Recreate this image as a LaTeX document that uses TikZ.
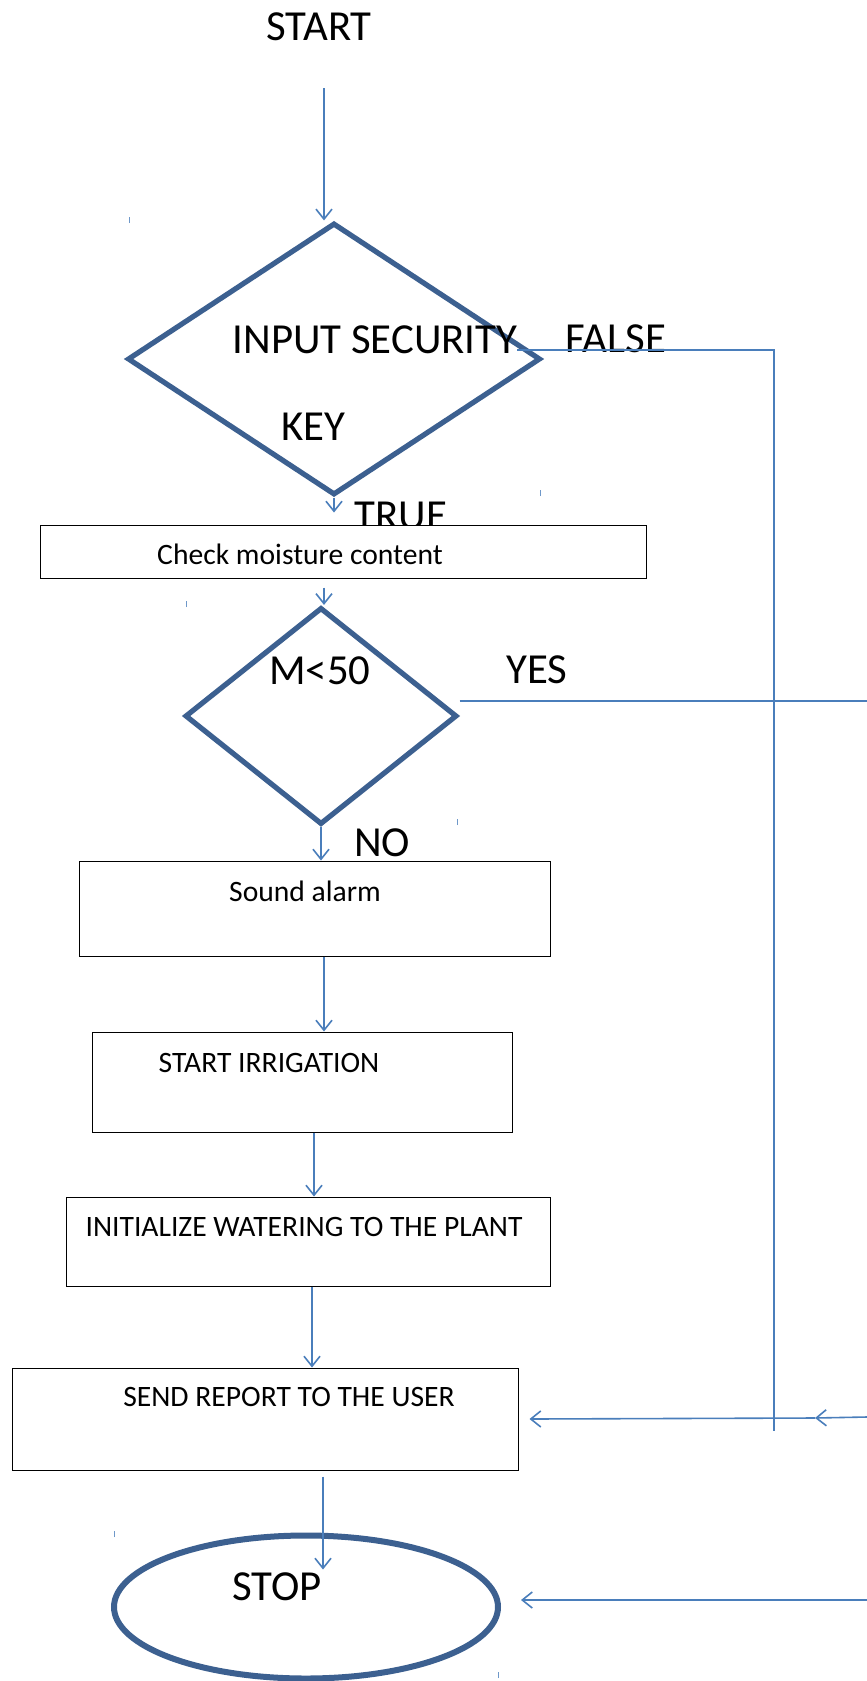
\documentclass[tikz,border=0pt]{standalone}
\usepackage{fontspec}
\setmainfont{Carlito}
\usetikzlibrary{shapes.geometric,arrows.meta}
\definecolor{flowblue}{HTML}{4A7EBB}
\definecolor{shapeblue}{HTML}{3C6090}

\tikzset{
  flow/.style={draw=flowblue, line width=0.8pt, -{Straight Barb[length=5pt,width=8pt]}},
  link/.style={draw=flowblue, line width=0.8pt},
  decision/.style={diamond, draw=shapeblue, line width=2.6pt, inner sep=0pt},
  procbox/.style={rectangle, draw=black, fill=white, line width=0.5pt, inner sep=0pt},
  bigtxt/.style={font=\fontsize{21.4}{25}\selectfont},
  boxtxt/.style={font=\fontsize{14.8}{17}\selectfont},
  crumb/.style={draw=flowblue!80, line width=0.5pt},
}

\begin{document}
\begin{tikzpicture}[x=0.5pt,y=-0.5pt]
  \fill[white] (0,0) rectangle (867,1681);
  \useasboundingbox (0,0) rectangle (867,1681);

  % top part
  \node[bigtxt] (start) at (319,27) {START};
  \node[decision, minimum width=206.5pt, minimum height=136pt] (d1) at (334,359) {};
  \node[bigtxt] (d1a) at (375,340) {INPUT SECURITY};
  \node[bigtxt] (d1b) at (313,427) {KEY};
  \node[bigtxt] (false) at (616,339) {FALSE};
  \node[bigtxt] (true) at (401,516) {TRUE};

  \node[procbox, minimum width=303pt, minimum height=26.5pt] (b1) at (343,551.5) {};
  \node[boxtxt] (b1t) at (300,554) {Check moisture content};

  \node[decision, minimum width=136pt, minimum height=108.5pt] (d2) at (321,716) {};
  \node[bigtxt] (d2t) at (320,671) {M<50};
  \node[bigtxt] (yes) at (537,670) {YES};
  \node[bigtxt] (no) at (382,843) {NO};

  % process boxes
  \node[procbox, minimum width=235.5pt, minimum height=47.5pt] (b2) at (314.5,908.5) {};
  \node[boxtxt] (b2t) at (305,891) {Sound alarm};
  \node[procbox, minimum width=210pt, minimum height=50pt] (b3) at (302,1082) {};
  \node[boxtxt] (b3t) at (269,1063) {START IRRIGATION};
  \node[procbox, minimum width=242pt, minimum height=44.5pt] (b4) at (308,1241.5) {};
  \node[boxtxt] (b4t) at (304,1227) {INITIALIZE WATERING TO THE PLANT};
  \node[procbox, minimum width=253pt, minimum height=51pt] (b5) at (265,1419) {};
  \node[boxtxt] (b5t) at (289,1397) {SEND REPORT TO THE USER};

  \node[ellipse, draw=shapeblue, line width=3pt, inner sep=0pt,
        minimum width=192pt, minimum height=71.5pt] (stop) at (306,1607) {};
  \node[bigtxt] (stopt) at (277,1587) {STOP};

  % main flow
  \draw[flow, shorten <=20pt] (start.south -| 324,0) -- (d1.north -| 324,0);
  \draw[flow, shorten >=6pt] (d1.south) -- (b1.north -| d1.south);
  \draw[flow, shorten <=4.5pt] (b1.south -| 324,0) -- (d2.north -| 324,0);
  \draw[flow] (d2.south) -- (b2.north -| d2.south);
  \draw[flow] (b2.south -| 324,0) -- (b3.north -| 324,0);
  \draw[flow] (b3.south -| 314,0) -- (b4.north -| 314,0);
  \draw[flow] (b4.south -| 312,0) -- (b5.north -| 312,0);
  \draw[flow, shorten <=3pt, shorten >=-18.5pt] (b5.south -| 323,0) -- (stop.north -| 323,0);

  % side branches
  \coordinate (fdown) at (774,1431);
  \coordinate (yesout) at (867,701);
  \coordinate (rin1) at (867,1417);
  \coordinate (rmid) at (815,1418);
  \coordinate (rin2) at (867,1600);
  \draw[link] ([xshift=-13pt,yshift=4.5pt]d1.east) -| (fdown);
  \draw[link] ([yshift=7.5pt]d2.east) -- (yesout);
  \draw[flow] (rin1) -- (rmid);
  \draw[flow] (rmid) -- ([xshift=5.5pt]b5.east);
  \draw[flow, shorten >=10pt] (rin2) -- (stop.east |- rin2);

  \foreach \x/\y in {129/223, 540/496, 186/607, 457/825, 114/1537, 498/1678}
    \draw[crumb] (\x,\y) -- ++(0,-6);
\end{tikzpicture}
\end{document}
